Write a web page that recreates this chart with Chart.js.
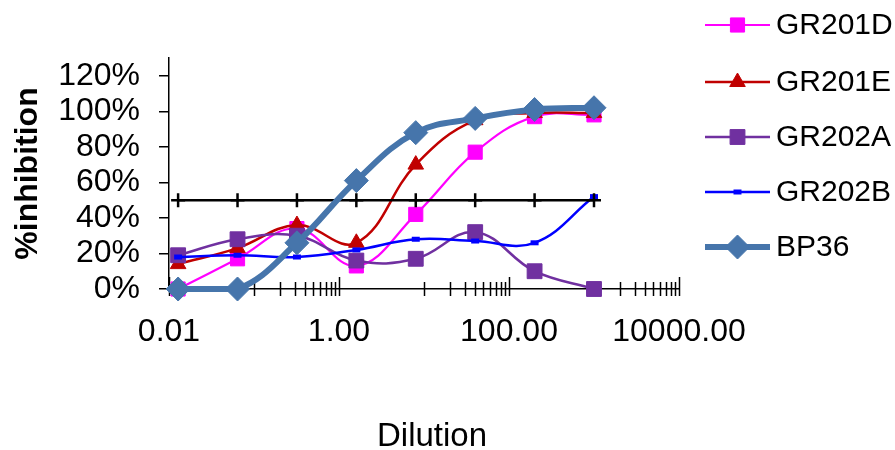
<!DOCTYPE html>
<html>
<head>
<meta charset="utf-8">
<script src="https://cdn.jsdelivr.net/npm/chart.js@4"></script>
<style>
  html, body { margin: 0; background: #fff; }
  #wrap { width: 895px; height: 450px; }
</style>
</head>
<body>
<div id="wrap"><canvas id="chart"></canvas></div>
<script>
// 5-fold dilution series
const dilution = [0.0128, 0.064, 0.32, 1.6, 8, 40, 200, 1000];
const gr201d = [0, 17, 34, 13, 42, 77, 97, 98];
const gr201e = [14, 23, 36, 26, 70, 95, 99, 99];
const gr202a = [19, 28, 30, 16, 17, 32, 10, 0];
const gr202b = [18, 19, 18, 22, 28, 27, 26, 52];
const bp36 = [0, 0, 26, 61, 88, 96, 101, 102];
const cutoff = [50, 50, 50, 50, 50, 50, 50, 50];

const xMajor = [0.01, 1, 100, 10000];
const xMinor = [0.1, 0.2, 0.3, 0.4, 0.5, 0.6, 0.7, 0.8, 0.9,
                10, 20, 30, 40, 50, 60, 70, 80, 90,
                1000, 2000, 3000, 4000, 5000, 6000, 7000, 8000, 9000];
const yTicks = [0, 20, 40, 60, 80, 100, 120];
const xTitle = 'Dilution';

const FONT = 'Liberation Sans, Arial, sans-serif';

const pts = vals => vals.map((y, i) => ({ x: dilution[i], y }));

const series = (label, vals, color, style, radius, width, order) => ({
    label,
    data: pts(vals),
    borderColor: color,
    backgroundColor: color,
    borderWidth: width,
    pointStyle: style,
    pointRadius: radius,
    pointBorderWidth: 1,
    pointBackgroundColor: color,
    pointBorderColor: color,
    showLine: true,
    tension: 0.4,
    clip: false,
    order
});

const datasets = [
    series('GR201D', gr201d, '#FF00FF', 'rect', 10, 2.2, 5),
    series('GR201E', gr201e, '#C00000', 'triangle', 9, 2.5, 4),
    series('GR202A', gr202a, '#7030A0', 'rect', 10.5, 2.5, 3),
    Object.assign(series('GR202B', gr202b, '#0000FF', 'line', 4, 2.5, 2), { pointBorderWidth: 5 }),
    Object.assign(series('BP36', bp36, '#4675AB', 'rectRot', 12, 6, 0), { pointBorderWidth: 1 }),
    Object.assign(series('cutoff', cutoff, '#000000', 'cross', 7, 2.5, 1), { pointBorderWidth: 2.5, noLegend: true })
];

// tick marks crossing the x axis line, plus the axis title
const xTickMarks = {
    id: 'xTickMarks',
    beforeDatasetsDraw(chart) {
        const { ctx, scales: { x, y } } = chart;
        const y0 = y.getPixelForValue(0);
        ctx.save();
        ctx.strokeStyle = '#000';
        ctx.lineWidth = 1.5;
        x.ticks.forEach(t => {
            const px = Math.round(x.getPixelForValue(t.value)) + 0.5;
            const up = xMajor.includes(t.value) ? 12 : 7;
            ctx.beginPath();
            ctx.moveTo(px, y0 - up);
            ctx.lineTo(px, y0 + 7);
            ctx.stroke();
        });
        ctx.fillStyle = '#000';
        ctx.font = '33px ' + FONT;
        ctx.textAlign = 'center';
        ctx.textBaseline = 'middle';
        ctx.fillText(xTitle, 432, 437);
        ctx.restore();
    }
};

// Excel-style legend: line sample with marker in the middle
const sideLegend = {
    id: 'sideLegend',
    afterDraw(chart) {
        const ctx = chart.ctx;
        const rows = [25, 82, 137, 192, 247];
        ctx.save();
        chart.data.datasets.filter(d => !d.noLegend).forEach((d, i) => {
            const yy = rows[i];
            ctx.strokeStyle = d.borderColor;
            ctx.lineWidth = d.borderWidth;
            ctx.beginPath();
            ctx.moveTo(705, yy);
            ctx.lineTo(770, yy);
            ctx.stroke();
            ctx.fillStyle = d.pointBackgroundColor;
            ctx.strokeStyle = d.pointBorderColor;
            ctx.lineWidth = d.pointBorderWidth;
            Chart.helpers.drawPoint(ctx, {
                pointStyle: d.pointStyle,
                radius: d.pointRadius,
                rotation: 0,
                borderWidth: d.pointBorderWidth
            }, 737.5, yy);
            ctx.fillStyle = '#000';
            ctx.font = '30px ' + FONT;
            ctx.textAlign = 'left';
            ctx.textBaseline = 'middle';
            ctx.fillText(d.label, 776, yy + 1);
        });
        ctx.restore();
    }
};

new Chart(document.getElementById('chart'), {
    type: 'scatter',
    data: { datasets },
    plugins: [xTickMarks, sideLegend],
    options: {
        responsive: true,
        maintainAspectRatio: false,
        animation: false,
        events: [],
        layout: { padding: { top: 58, right: 216, bottom: 0, left: 0 } },
        plugins: { legend: { display: false }, tooltip: { enabled: false } },
        scales: {
            x: {
                type: 'logarithmic',
                min: 0.01,
                max: 10000,
                afterBuildTicks: s => { s.ticks = xMajor.concat(xMinor).sort((a, b) => a - b).map(v => ({ value: v })); },
                afterFit: s => { s.height = 161; },
                grid: { display: false, drawTicks: false },
                border: { display: true, color: '#000', width: 1.5 },
                ticks: {
                    autoSkip: false,
                    maxRotation: 0,
                    padding: 24,
                    color: '#000',
                    font: { family: FONT, size: 32 },
                    callback: v => xMajor.includes(v) ? v.toFixed(2) : ''
                }
            },
            y: {
                min: 0,
                max: 130,
                afterBuildTicks: s => { s.ticks = yTicks.map(v => ({ value: v })); },
                afterFit: s => { s.width = 169; },
                grid: { display: true, drawOnChartArea: false, drawTicks: true, tickLength: 10, color: '#000', lineWidth: 1.5 },
                border: { display: true, color: '#000', width: 1.5 },
                ticks: {
                    autoSkip: false,
                    padding: 19,
                    color: '#000',
                    font: { family: FONT, size: 32 },
                    callback: v => v + '%'
                },
                title: {
                    display: true,
                    text: '%inhibition',
                    color: '#000',
                    font: { family: FONT, size: 32, weight: 'bold', lineHeight: 1.2 },
                    padding: { top: 9, bottom: 0 }
                }
            }
        }
    }
});
</script>
</body>
</html>
